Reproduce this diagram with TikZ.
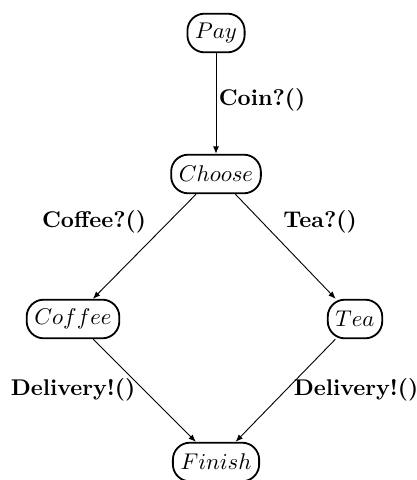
\documentclass[tikz,border=0pt]{standalone}
\usepackage{amsmath,amssymb}
\usetikzlibrary{arrows.meta,positioning}

\begin{document}
\begin{tikzpicture}[x=0.44pt, y=-0.44pt,
  state/.style={draw=black, rounded corners=7.5pt, line width=0.8pt,
                minimum height=17pt, inner xsep=3.4pt, inner ysep=2pt},
  trans/.style={-{Latex[length=3.2pt, width=2.6pt]}, line width=0.4pt},
  lbl/.style={font=\bfseries, inner sep=2pt}]
\useasboundingbox (0,0) rectangle (416,480);

\node[state] (pay) at (216,33) {$Pay$};
\node[state] (choose) at (216,174) {$Choose$};
\node[state] (coffee) at (73,319) {$Coffee$};
\node[state] (tea) at (355,319) {$Tea$};
\node[state] (finish) at (216,462) {$Finish$};

\draw[trans] (pay) -- (choose);
\draw[trans] (choose) -- (coffee);
\draw[trans] (choose) -- (tea);
\draw[trans] (coffee) -- (finish);
\draw[trans] (tea) -- (finish);

\node[lbl] (lcoin) at (262,100) {Coin?()};
\node[lbl] (lcoffee) at (94,222) {Coffee?()};
\node[lbl] (ltea) at (320,222) {Tea?()};
\node[lbl] (ldelivl) at (73,390) {Delivery!()};
\node[lbl] (ldelivr) at (356,390) {Delivery!()};
\end{tikzpicture}
\end{document}
